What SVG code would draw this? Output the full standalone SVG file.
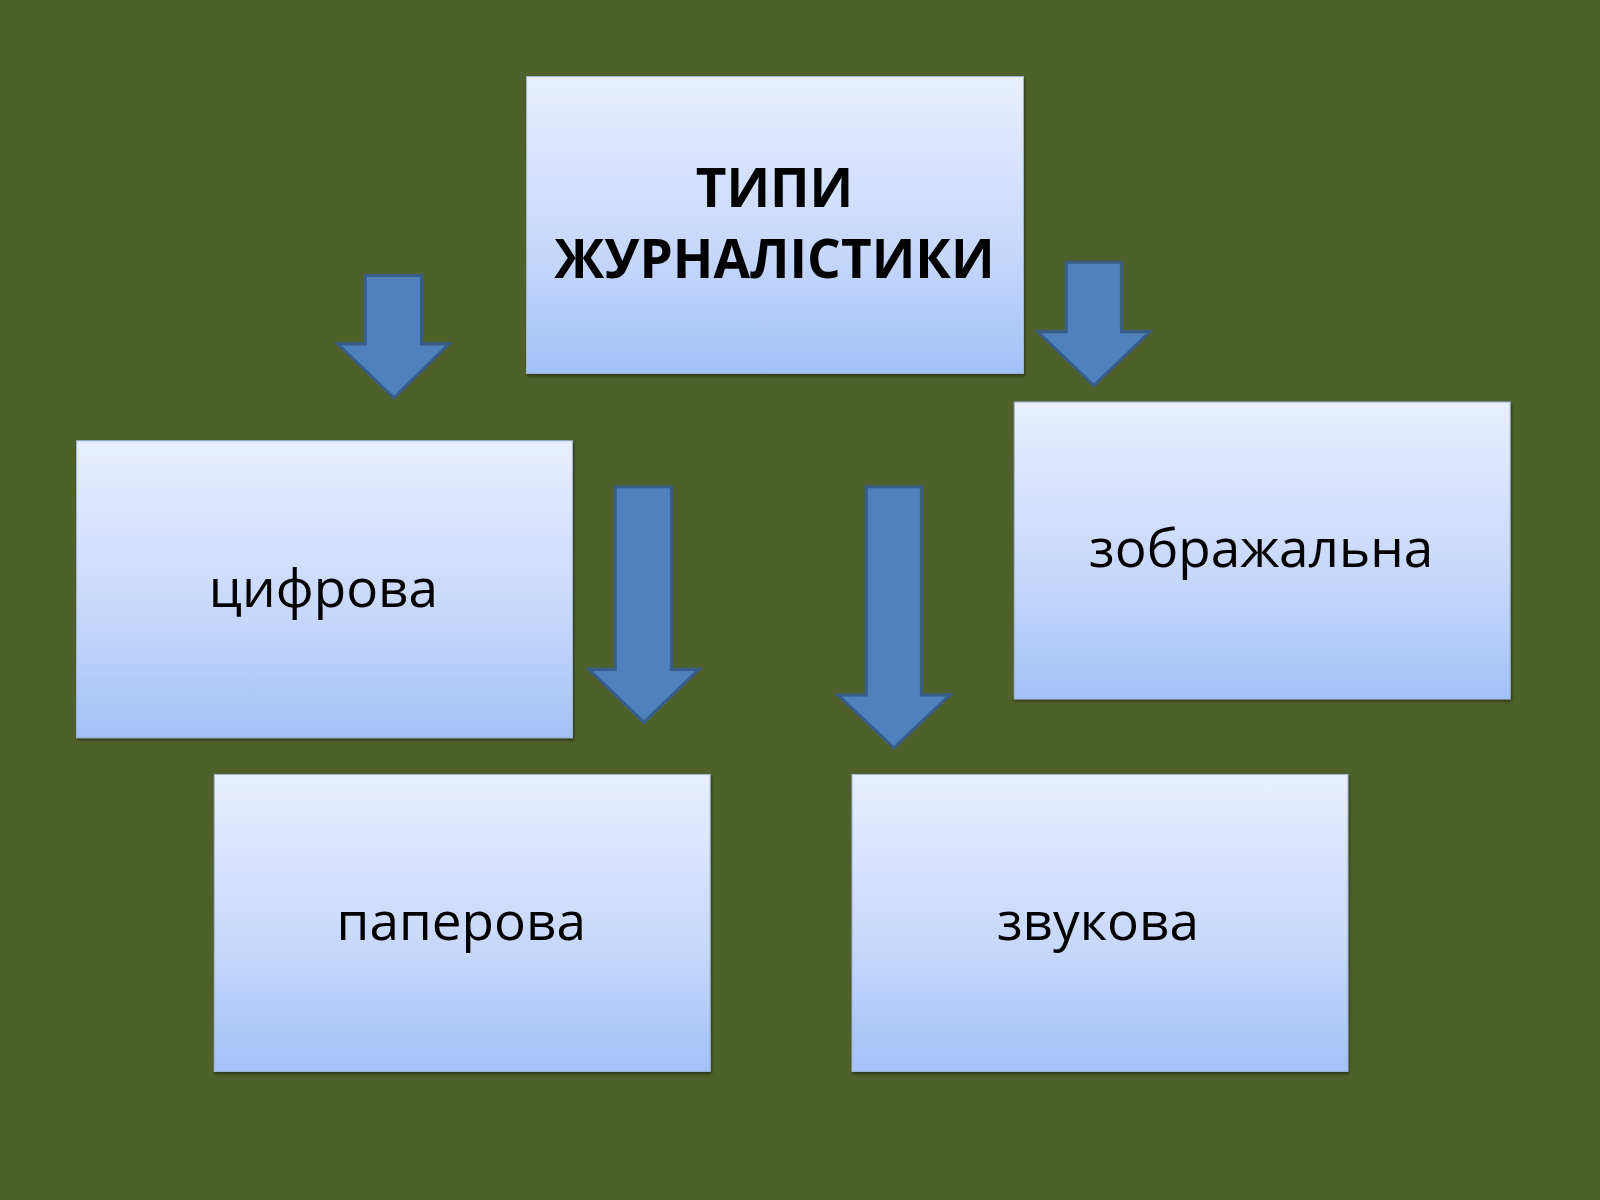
<svg xmlns="http://www.w3.org/2000/svg" width="1600" height="1200" viewBox="0 0 1600 1200">
<defs>
<linearGradient id="g" x1="0" y1="0" x2="0" y2="1"><stop offset="0" stop-color="#e8efff"/><stop offset="0.6" stop-color="#c6d7fb"/><stop offset="1" stop-color="#a3c0f8"/></linearGradient>
<filter id="sh" x="-5%" y="-5%" width="110%" height="115%"><feDropShadow dx="1" dy="2" stdDeviation="1.5" flood-color="#000" flood-opacity="0.45"/></filter>
</defs>
<style>
.box{fill:url(#g);stroke:#9fb6e0;stroke-width:1;filter:url(#sh)}
.t{font-family:"Open Sans","Liberation Sans",sans-serif;font-size:52px;fill:#000;text-anchor:middle}
.b{font-weight:bold}
.ar{fill:#4f81bd;stroke:#385d8a;stroke-width:3}
</style>
<rect width="1600" height="1200" fill="#4f612a"/>
<g transform="scale(1.0204)">
<g id="top"><rect class="box" x="516" y="75" width="487" height="291"/><text class="t b" x="759" y="203">ТИПИ</text><text class="t b" x="759" y="272">ЖУРНАЛІСТИКИ</text></g>
<g id="cyfrova"><rect class="box" x="75" y="432" width="486" height="291"/><text class="t" x="317" y="595">цифрова</text></g>
<g id="zobr"><rect class="box" x="994" y="394" width="486" height="291"/><text class="t" x="1236" y="556">зображальна</text></g>
<g id="paper"><rect class="box" x="210" y="759" width="486" height="291"/><text class="t" x="452" y="921">паперова</text></g>
<g id="zvuk"><rect class="box" x="835" y="759" width="486" height="291"/><text class="t" x="1076" y="921">звукова</text></g>
<g id="connectors">
<polygon class="ar" points="358,270 413,270 413,337 440,337 386,390 331,337 358,337"/>
<polygon class="ar" points="1045,257 1099,257 1099,325 1127,325 1072,378 1017,325 1045,325"/>
<polygon class="ar" points="603,477 658,477 658,656 685,656 631,708 577,656 603,656"/>
<polygon class="ar" points="849,477 903,477 903,681 931,681 876,733 821,681 849,681"/>
</g>
</g>
</svg>
